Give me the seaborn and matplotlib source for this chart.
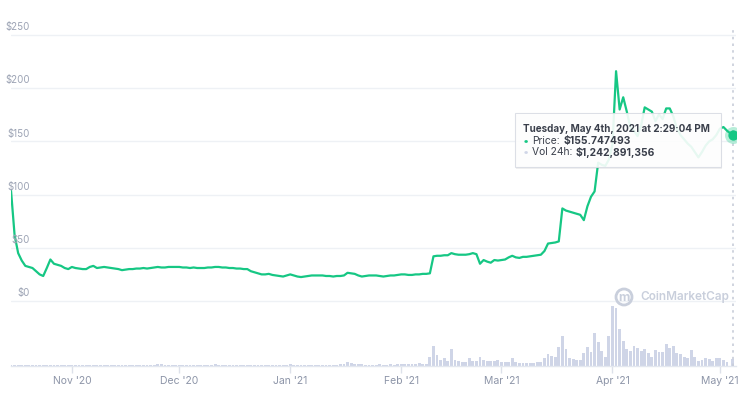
import pandas as pd
import numpy as np
import matplotlib
matplotlib.use('Agg')
import matplotlib.pyplot as plt
import matplotlib.dates as mdates
import matplotlib.transforms as mtransforms
from matplotlib.patches import Rectangle, Circle
import seaborn as sns

# daily points, Oct 15 2020 .. May 4 2021 (last one is the hovered point)
dates = list(pd.date_range('2020-10-15', '2021-05-03', freq='D')) + [pd.Timestamp('2021-05-04 14:29')]

price = [
    104, 62, 45, 38, 33, 32, 31, 28, 25, 23.5,
    31, 39, 35, 34, 33, 31, 30, 32, 31, 30.5,
    30, 30, 32, 33, 31, 31.5, 32, 31.5, 31, 30.5,
    30, 29, 29.5, 30, 30, 30.5, 30.5, 31, 30.5, 31,
    31.5, 32, 31.5, 31.5, 32, 32, 32, 32, 31.5, 31.5,
    31, 31.5, 31, 31, 31, 31.5, 31.5, 32, 32, 31.5,
    31.5, 31, 31, 30.5, 30.5, 30, 30, 28, 27, 26,
    25, 25, 25.5, 24.5, 24, 23.5, 23, 24, 25, 24,
    23, 22.5, 23, 23.5, 24, 24, 24, 24, 23.5, 23.5,
    23, 23.5, 23.5, 24, 26.5, 26, 25.5, 24, 23, 23.5,
    24, 24, 24, 23.5, 23, 23.5, 24, 24, 24.5, 25,
    25, 24.5, 24.5, 25, 25, 25.5, 25.5, 26, 42, 42.5,
    42.5, 43, 43, 45, 44, 43.5, 43.5, 43.5, 44, 45,
    44, 35, 38.5, 37, 36, 38.5, 38, 38.5, 39, 41,
    42.5, 41, 40.5, 41.5, 41.5, 42, 42.5, 43, 43.5, 47,
    54, 54.5, 55, 56, 87, 85, 84, 83, 82, 81,
    76, 89, 98, 103, 130, 128, 127, 133, 147, 216,
    180, 191.5, 178, 163, 160, 155, 165, 182, 180, 178,
    169, 175.5, 171, 181, 181, 173.5, 162, 156, 152, 148,
    145, 140, 135, 140, 146, 150, 152, 156, 162, 163.5,
    160, 155.747493,
]

# 24h volume, billions of USD
volume = [
    0.26, 0.22, 0.20, 0.18, 0.18, 0.16, 0.17, 0.18, 0.20, 0.19,
    0.20, 0.24, 0.21, 0.19, 0.18, 0.17, 0.18, 0.20, 0.19, 0.18,
    0.17, 0.18, 0.22, 0.24, 0.20, 0.19, 0.18, 0.17, 0.18, 0.17,
    0.16, 0.17, 0.18, 0.17, 0.16, 0.18, 0.17, 0.18, 0.19, 0.20,
    0.22, 0.30, 0.37, 0.25, 0.20, 0.19, 0.18, 0.19, 0.20, 0.18,
    0.19, 0.20, 0.22, 0.24, 0.21, 0.19, 0.26, 0.30, 0.22, 0.20,
    0.19, 0.18, 0.19, 0.20, 0.18, 0.17, 0.19, 0.20, 0.22, 0.21,
    0.19, 0.18, 0.22, 0.26, 0.24, 0.20, 0.19, 0.24, 0.30, 0.22,
    0.20, 0.19, 0.18, 0.20, 0.22, 0.21, 0.19, 0.20, 0.24, 0.26,
    0.22, 0.25, 0.30, 0.45, 0.74, 0.55, 0.40, 0.32, 0.28, 0.26,
    0.24, 0.22, 0.25, 0.28, 0.24, 0.26, 0.30, 0.25, 0.28, 0.42,
    0.30, 0.28, 0.34, 0.40, 0.60, 0.30, 0.45,
    1.61, 3.70, 2.04, 1.11, 1.42, 0.93, 3.15, 1.11, 0.93, 0.68,
    0.68, 1.42, 0.93, 0.93, 1.61, 1.11, 0.93, 0.93, 0.93, 1.11,
    0.80, 0.80, 0.80, 1.54, 0.68, 0.61, 0.50, 0.50, 0.61, 0.61,
    0.80, 0.80, 1.42, 2.22, 1.91, 1.61, 3.46, 5.55, 3.15, 1.54,
    1.30, 1.11, 1.11, 2.35, 3.46, 2.65, 6.11, 4.38, 2.83, 1.61,
    5.55, 11.10, 10.73, 6.85, 4.63, 3.09, 2.83, 3.70, 3.27, 2.78,
    3.09, 2.46, 1.61, 2.96, 2.53, 2.65, 4.07, 3.39, 3.76, 2.35,
    2.22, 1.72, 1.54, 2.96, 1.61, 0.98, 1.11, 1.42, 1.24, 0.93,
    1.42, 1.42, 1.11, 0.80, 1.242891356,
]

price_ticks = [0, 50, 100, 150, 200, 250]
price_labels = ['$0', '$50', '$100', '$150', '$200', '$250']
month_ticks = pd.to_datetime(['2020-11-01', '2020-12-01', '2021-01-01', '2021-02-01',
                              '2021-03-01', '2021-04-01', '2021-05-01'])

tooltip_title = 'Tuesday, May 4th, 2021 at 2:29:04 PM'
tooltip_price = '$155.747493'
tooltip_vol = '$1,242,891,356'

GREEN = '#16c784'
BAR = '#cfd5e7'
GRAY = '#8d95a8'
GRID = '#eef1f5'
TXT = '#3a3f4b'

sns.set_theme(style='white')
plt.rcParams['font.family'] = ['Inter', 'DejaVu Sans']

df = pd.DataFrame({'date': dates, 'price': price, 'volume': volume})

W, H = 744, 396
fig = plt.figure(figsize=(W / 100, H / 100), dpi=100)
rect = [11 / W, 1 - 366 / H, 725 / W, 338 / H]
axv = fig.add_axes(rect)
ax = axv.twinx()

# volume bars (lower band)
axv.bar(df['date'], df['volume'], width=0.8, color=BAR, linewidth=0)
axv.set_ylim(0, 62.5)
axv.set_yticks([])
x0 = pd.Timestamp('2020-10-15')
axv.set_xlim(x0, x0 + pd.Timedelta(days=202.5))
axv.set_xticks(month_ticks)
axv.xaxis.set_major_formatter(mdates.DateFormatter("%b '%y"))
axv.tick_params(axis='x', length=5, width=1, color='#dde1ea', pad=2,
                labelsize=7.5, labelcolor=GRAY, bottom=True)
for s in ['top', 'left', 'right']:
    axv.spines[s].set_visible(False)
axv.spines['bottom'].set_color('#e3e7ef')
axv.spines['bottom'].set_linewidth(1)
axv.set_facecolor('white')

# price line
ax.patch.set_visible(False)
sns.lineplot(data=df, x='date', y='price', ax=ax, color=GREEN, linewidth=1.6)
ax.set_ylim(-61.1, 256.6)
ax.set_yticks(price_ticks)
ax.set_yticklabels([])
ax.tick_params(axis='y', length=0, right=False)
ax.grid(axis='y', color=GRID, linewidth=1)
ax.grid(axis='x', visible=False)
ax.set_xlabel('')
ax.set_ylabel('')
for s in ax.spines.values():
    s.set_visible(False)

trans = mtransforms.blended_transform_factory(fig.transFigure, ax.transData)
for v, lab in zip(price_ticks, price_labels):
    ax.annotate(lab, xy=(30 / W, v), xycoords=trans, xytext=(0, 2),
                textcoords='offset points', ha='right', va='bottom',
                fontsize=7, color='#9ca3b4')

# hover line and marker
last = df.iloc[-1]
ax.axvline(last['date'], color='#c8cdd9', linewidth=1.2, linestyle=(0, (1.5, 2.5)), zorder=1)
ax.scatter([last['date']], [last['price']], s=150, color=GREEN, alpha=0.3, linewidth=0, zorder=5)
ax.scatter([last['date']], [last['price']], s=55, color=GREEN, linewidth=0, zorder=6)

# watermark
fig.add_artist(Circle((624, H - 297), 8, transform=None, fill=False,
                      edgecolor='#c9cfdc', linewidth=2))
fig.text(624 / W, 1 - 298 / H, 'm', ha='center', va='center', fontsize=9,
         fontweight='bold', color='#c9cfdc')
fig.text(640 / W, 1 - 297 / H, 'CoinMarketCap', ha='left', va='center',
         fontsize=8.5, fontweight='semibold', color='#c9cfdc')

# tooltip
fig.add_artist(Rectangle((516 / W, 1 - 169 / H), 206 / W, 54 / H, transform=fig.transFigure,
                         facecolor='#000000', alpha=0.06, linewidth=0))
fig.add_artist(Rectangle((515 / W, 1 - 167 / H), 206 / W, 54 / H, transform=fig.transFigure,
                         facecolor='white', alpha=0.9, edgecolor='#d9dce4', linewidth=0.8))
fs = 7.4
fig.text(523 / W, 1 - 129 / H, tooltip_title, ha='left', va='center', fontsize=7.1,
         fontweight='bold', color=TXT)
renderer = fig.canvas.get_renderer()
rows = [(141, GREEN, 'Price:', tooltip_price), (152, BAR, 'Vol 24h:', tooltip_vol)]
for y, c, lab, val in rows:
    fig.text(523 / W, 1 - y / H, '\u2022', ha='left', va='center', fontsize=8, color=c)
    t = fig.text(532 / W, 1 - y / H, lab, ha='left', va='center', fontsize=fs, color=TXT)
    x_end = t.get_window_extent(renderer).x1
    fig.text((x_end + 3.5) / W, 1 - y / H, val, ha='left', va='center', fontsize=fs,
             fontweight='bold', color=TXT)

fig.savefig('out.png', dpi=100)
